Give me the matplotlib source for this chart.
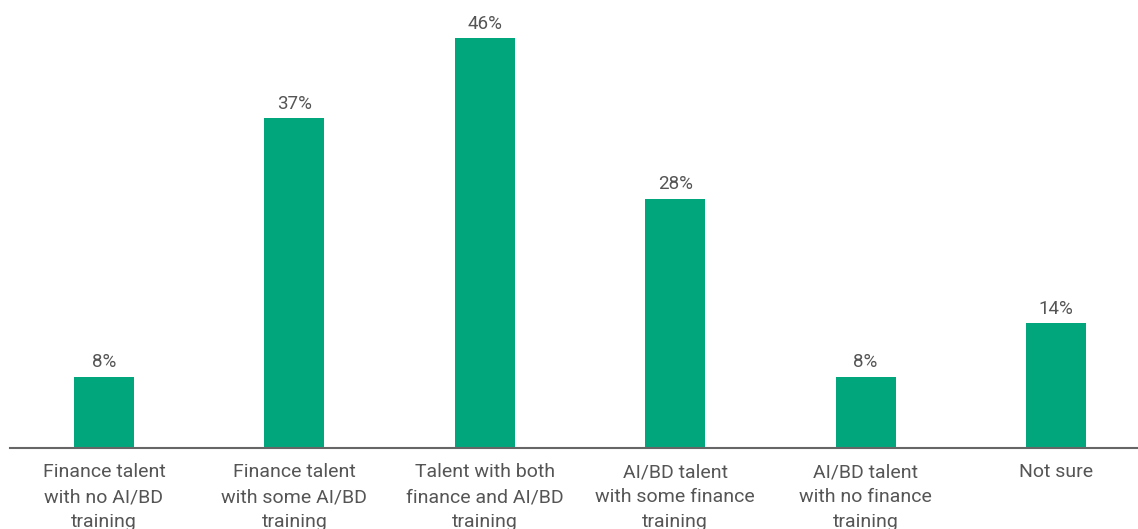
import matplotlib
matplotlib.use("Agg")
import matplotlib.pyplot as plt

# chart data
categories = [
    "Finance talent\nwith no AI/BD\ntraining",
    "Finance talent\nwith some AI/BD\ntraining",
    "Talent with both\nfinance and AI/BD\ntraining",
    "AI/BD talent\nwith some finance\ntraining",
    "AI/BD talent\nwith no finance\ntraining",
    "Not sure",
]
values = [8, 37, 46, 28, 8, 14]

bar_color = "#02A67D"
text_color = "#555555"

plt.rcParams["font.family"] = ["Roboto", "DejaVu Sans"]

fig = plt.figure(figsize=(11.38, 5.29), dpi=100)
ax = fig.add_axes([0.0, 0.153, 1.0, 0.847])

x = list(range(len(categories)))
bars = ax.bar(x, values, width=0.315, color=bar_color)

for b, v in zip(bars, values):
    ax.text(b.get_x() + b.get_width() / 2, v + 0.6, f"{v}%",
            ha="center", va="bottom", fontsize=13.5, color=text_color)

ax.set_xlim(-0.546, 5.431)
ax.set_ylim(0, 50.3)

ax.set_xticks(x)
ax.set_xticklabels(categories, fontsize=14, color=text_color, linespacing=1.48)
ax.tick_params(axis="x", length=0, pad=11)
ax.set_yticks([])

for side in ["top", "right", "left"]:
    ax.spines[side].set_visible(False)
ax.spines["bottom"].set_color("#666666")
ax.spines["bottom"].set_linewidth(1.5)
ax.spines["bottom"].set_bounds(-0.494, 5.431)

fig.savefig("out.png", dpi=100)
